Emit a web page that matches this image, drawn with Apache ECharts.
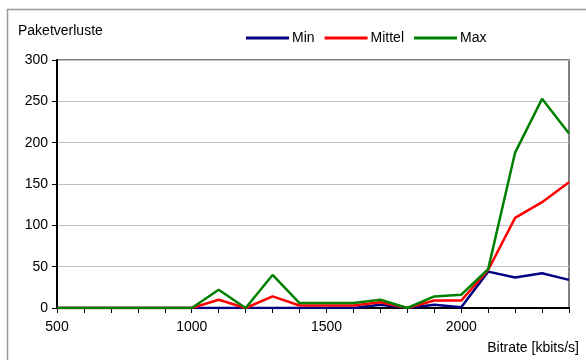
<!DOCTYPE html>
<html>
<head>
<meta charset="utf-8">
<script src="https://cdn.jsdelivr.net/npm/echarts@6/dist/echarts.min.js"></script>
<style>
  html, body { margin: 0; padding: 0; background: #fff; }
  #chart { width: 586px; height: 360px; }
</style>
</head>
<body>
<div id="chart"></div>
<script>
// Bitrate steps in kbit/s
const bitrates = [500, 600, 700, 800, 900, 1000, 1100, 1200, 1300, 1400, 1500, 1600, 1700, 1800, 1900, 2000, 2100, 2200, 2300, 2400];
// Packet losses per bitrate
const minLoss  = [0, 0, 0, 0, 0, 0, 0, 0, 0, 0, 0, 0, 4, 0, 4, 1, 44, 37, 42, 34];
const meanLoss = [0, 0, 0, 0, 0, 0, 10, 0, 14, 3, 3, 3, 7, 0, 9, 9, 46, 109, 128, 152];
const maxLoss  = [0, 0, 0, 0, 0, 0, 22, 0, 40, 6, 6, 6, 10, 0, 14, 16, 47, 188, 253, 211];
const seriesNames = ['Min', 'Mittel', 'Max'];
const yTicks = [0, 50, 100, 150, 200, 250, 300];
const xLabelStep = 500;

const font = 'Liberation Sans, Arial, sans-serif';
const chart = echarts.init(document.getElementById('chart'), null, { renderer: 'canvas' });

const pairs = arr => bitrates.map((b, i) => [b, arr[i]]);
const colors = ['#000080', '#ff0000', '#008000'];
const dataSets = [minLoss, meanLoss, maxLoss];

chart.setOption({
  animation: false,
  backgroundColor: '#fff',
  grid: {
    left: 57, right: 17, top: 60, bottom: 52,
    show: true, borderColor: '#808080', borderWidth: 2
  },
  legend: {
    data: seriesNames,
    left: 246, top: 31, padding: 0,
    itemWidth: 43, itemHeight: 3, itemGap: 10,
    icon: 'rect',
    textStyle: { fontFamily: font, fontSize: 14, color: '#000', padding: [0, 0, 0, -2] }
  },
  xAxis: {
    type: 'value',
    min: bitrates[0], max: bitrates[bitrates.length - 1], interval: 100,
    axisLine: { show: true, onZero: false, lineStyle: { color: '#000', width: 2 } },
    axisTick: { show: true, length: 5, lineStyle: { color: '#000', width: 1 } },
    axisLabel: {
      fontFamily: font, fontSize: 14, color: '#000', margin: 12,
      formatter: v => (v % xLabelStep === 0 && v < 2400) ? String(v) : ''
    },
    splitLine: { show: false }
  },
  yAxis: {
    type: 'value',
    min: yTicks[0], max: yTicks[yTicks.length - 1], interval: 50,
    axisLine: { show: true, lineStyle: { color: '#000', width: 2 } },
    axisTick: { show: true, length: 5, lineStyle: { color: '#000', width: 1 } },
    axisLabel: { fontFamily: font, fontSize: 14, color: '#000', margin: 9 },
    splitLine: { show: true, lineStyle: { color: '#c0c0c0', width: 1 } }
  },
  graphic: [
    {
      type: 'rect', silent: true, z: -1,
      shape: { x: 7.5, y: 9.5, width: 700, height: 500 },
      style: { fill: 'none', stroke: '#999', lineWidth: 1.5 }
    },
    {
      type: 'text', left: 18, top: 24,
      style: { text: 'Paketverluste', font: '14px ' + font, fill: '#000' }
    },
    {
      type: 'text', right: 7, top: 341,
      style: { text: 'Bitrate [kbits/s]', font: '14px ' + font, fill: '#000' }
    }
  ],
  series: seriesNames.map((name, i) => ({
    name: name,
    type: 'line',
    data: pairs(dataSets[i]),
    showSymbol: false,
    symbol: 'none',
    lineStyle: { color: colors[i], width: 2.5 },
    itemStyle: { color: colors[i] },
    z: 2 + i
  }))
});
</script>
</body>
</html>
